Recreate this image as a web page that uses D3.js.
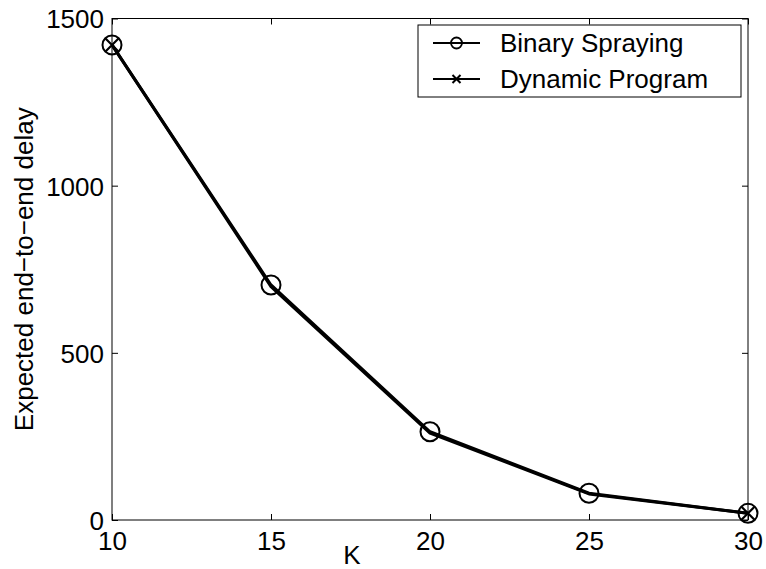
<!DOCTYPE html>
<html>
<head>
<meta charset="utf-8">
<script src="https://cdn.jsdelivr.net/npm/d3@7"></script>
<style>
  html, body { margin: 0; padding: 0; background: #fff; }
  svg { display: block; font-family: "Liberation Sans", Arial, sans-serif; }
</style>
</head>
<body>
<svg id="chart" width="766" height="569"></svg>
<script>
// ---- data ----
const kValues = [10, 15, 20, 25, 30];
const binarySpraying = [1421, 703, 264, 80, 20];
const dynamicProgram = [1421, 698, 260, 78, 20];
const dynamicMarkerIdx = [0, 4];
const xTicks = [10, 15, 20, 25, 30];
const yTicks = [0, 500, 1000, 1500];
const seriesNames = ["Binary Spraying", "Dynamic Program"];

// ---- layout ----
const svg = d3.select("#chart");
const L = 112, R = 748, T = 18.5, B = 520;
const x = d3.scaleLinear().domain([10, 30]).range([L, R]);
const y = d3.scaleLinear().domain([0, 1500]).range([B, T]);
const fs = 26;

// frame
svg.append("rect").attr("x", L).attr("y", T).attr("width", R - L).attr("height", B - T)
  .attr("fill", "none").attr("stroke", "#000").attr("stroke-width", 1);

// axes (inward ticks)
const tickLen = 6;
const xb = svg.append("g").attr("transform", `translate(0,${B})`)
  .call(d3.axisBottom(x).tickValues(xTicks).tickSizeInner(-tickLen).tickSizeOuter(0).tickFormat(d3.format("d")));
const xt = svg.append("g").attr("transform", `translate(0,${T})`)
  .call(d3.axisTop(x).tickValues(xTicks).tickSizeInner(-tickLen).tickSizeOuter(0).tickFormat(""));
const yl = svg.append("g").attr("transform", `translate(${L},0)`)
  .call(d3.axisLeft(y).tickValues(yTicks).tickSizeInner(-tickLen).tickSizeOuter(0).tickFormat(d3.format("d")));
const yr = svg.append("g").attr("transform", `translate(${R},0)`)
  .call(d3.axisRight(y).tickValues(yTicks).tickSizeInner(-tickLen).tickSizeOuter(0).tickFormat(""));
[xb, xt, yl, yr].forEach(g => {
  g.attr("font-size", fs).attr("font-family", "Liberation Sans, Arial, sans-serif");
  g.select(".domain").remove();
  g.selectAll(".tick line").attr("stroke", "#000").attr("stroke-width", 1);
  g.selectAll("text").attr("font-size", fs).attr("fill", "#000");
});
xb.selectAll("text").attr("dy", "0.71em").attr("y", 12);
yl.selectAll("text").attr("x", -8).attr("dy", "0.36em");

// axis labels
svg.append("text").attr("x", 352).attr("y", 564).attr("text-anchor", "middle")
  .attr("font-size", fs).text("K");
svg.append("text").attr("transform", `translate(33,${(T + B) / 2}) rotate(-90)`)
  .attr("text-anchor", "middle").attr("font-size", fs)
  .text("Expected end\u2212to\u2212end delay");

// lines
const line = d3.line().x(d => x(d[0])).y(d => y(d[1]));
const bsData = kValues.map((k, i) => [k, binarySpraying[i]]);
const dpData = kValues.map((k, i) => [k, dynamicProgram[i]]);
svg.append("path").datum(bsData).attr("d", line).attr("fill", "none")
  .attr("stroke", "#000").attr("stroke-width", 3).attr("stroke-linejoin", "round");
svg.append("path").datum(dpData).attr("d", line).attr("fill", "none")
  .attr("stroke", "#000").attr("stroke-width", 3).attr("stroke-linejoin", "round");

// markers
svg.append("g").selectAll("circle").data(bsData).join("circle")
  .attr("cx", d => x(d[0])).attr("cy", d => y(d[1])).attr("r", 9.5)
  .attr("fill", "none").attr("stroke", "#000").attr("stroke-width", 2);
const xm = 6.5;
svg.append("g").selectAll("path").data(dynamicMarkerIdx.map(i => dpData[i])).join("path")
  .attr("d", d => {
    const cx = x(d[0]), cy = y(d[1]);
    return `M${cx - xm},${cy - xm}L${cx + xm},${cy + xm}M${cx - xm},${cy + xm}L${cx + xm},${cy - xm}`;
  })
  .attr("fill", "none").attr("stroke", "#000").attr("stroke-width", 2.2);

// legend
const lg = svg.append("g");
lg.append("rect").attr("x", 418).attr("y", 25).attr("width", 323).attr("height", 72)
  .attr("fill", "#fff").attr("stroke", "#000").attr("stroke-width", 1);
const rows = [43, 79];
seriesNames.forEach((name, i) => {
  const ry = rows[i];
  lg.append("line").attr("x1", 433).attr("x2", 480).attr("y1", ry).attr("y2", ry)
    .attr("stroke", "#000").attr("stroke-width", 2);
  if (i === 0) {
    lg.append("circle").attr("cx", 456.5).attr("cy", ry).attr("r", 5.5)
      .attr("fill", "none").attr("stroke", "#000").attr("stroke-width", 1.8);
  } else {
    const s = 4;
    lg.append("path").attr("d", `M${456.5 - s},${ry - s}L${456.5 + s},${ry + s}M${456.5 - s},${ry + s}L${456.5 + s},${ry - s}`)
      .attr("stroke", "#000").attr("stroke-width", 2);
  }
  lg.append("text").attr("x", 500).attr("y", ry).attr("dy", "0.36em")
    .attr("font-size", fs).text(name);
});
</script>
</body>
</html>
